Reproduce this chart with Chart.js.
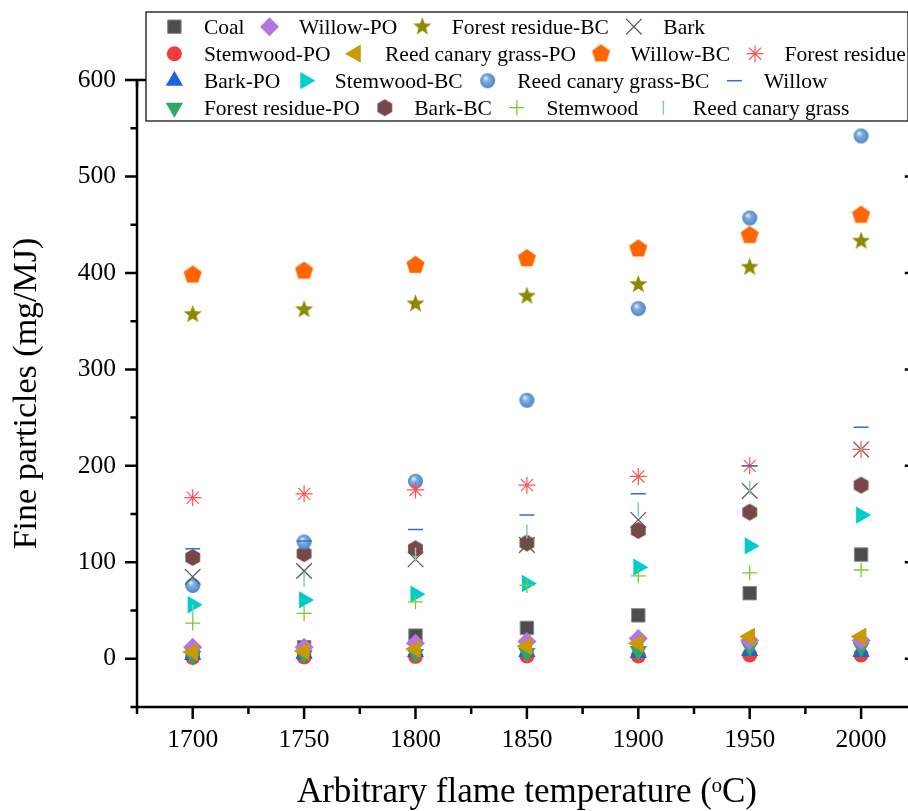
<!DOCTYPE html>
<html><head><meta charset="utf-8">
<script src="https://cdn.jsdelivr.net/npm/chart.js@4/dist/chart.umd.min.js"></script>
<style>
html,body{margin:0;padding:0;overflow:hidden;background:#fff;width:908px;height:811px}
#wrap{position:absolute;left:0;top:0;width:929px;height:811px}
</style>
</head><body><div id="wrap"><canvas id="c" width="929" height="811"></canvas></div>
<script>
// ---------- data ----------
const temps = [1700, 1750, 1800, 1850, 1900, 1950, 2000];
const xTickValues = [1700, 1750, 1800, 1850, 1900, 1950, 2000];
const yTickValues = [0, 100, 200, 300, 400, 500, 600];

const coal              = [7, 12, 24, 32, 45, 68, 108];
const stemwoodPO        = [1.5, 2, 2.5, 3, 3, 4, 4];
const barkPO            = [4, 5, 7, 7, 6, 8, 7];
const forestResiduePO   = [3, 4, 5, 6, 8, 12, 12];
const willowPO          = [12, 12, 16, 18, 21, 19, 19];
const reedCanaryGrassPO = [7, 8, 10, 13, 16, 23, 23];
const stemwoodBC        = [56, 61, 67, 78, 95, 117, 149];
const barkBC            = [105, 109, 114, 120, 133, 152, 180];
const forestResidueBC   = [357, 362, 368, 376, 388, 406, 433];
const willowBC          = [398, 402, 408, 415, 425, 439, 460];
const reedCanaryGrassBC = [76, 121, 184, 268, 363, 457, 542];
const stemwood          = [37, 47, 59, 76, 86, 89, 92];
const bark              = [85, 91, 103, 118, 144, 174, 217];
const forestResidue     = [167, 171, 175, 180, 189, 200, 217];
const willow            = [114, 122, 134, 149, 171, 200, 240];
const reedCanaryGrass   = [49, 82, 108, 132, 155, 177, 218];

const legendRows = [
  ['Coal', 'Willow-PO', 'Forest residue-BC', 'Bark'],
  ['Stemwood-PO', 'Reed canary grass-PO', 'Willow-BC', 'Forest residue'],
  ['Bark-PO', 'Stemwood-BC', 'Reed canary grass-BC', 'Willow'],
  ['Forest residue-PO', 'Bark-BC', 'Stemwood', 'Reed canary grass']
];

// ---------- custom marker images ----------
function mk(size) { const c = document.createElement('canvas'); c.width = c.height = size; return c; }
function polyImg(color, R, n, startDeg, innerRatio) {
  const s = Math.ceil(2 * R + 4), c = mk(s), g = c.getContext('2d');
  const cx = s / 2, cy = s / 2;
  g.beginPath();
  const pts = innerRatio ? n * 2 : n;
  for (let i = 0; i < pts; i++) {
    const a = (startDeg + i * 360 / pts) * Math.PI / 180;
    const r = innerRatio && (i % 2) ? R * innerRatio : R;
    const px = cx + r * Math.cos(a), py = cy + r * Math.sin(a);
    i ? g.lineTo(px, py) : g.moveTo(px, py);
  }
  g.closePath(); g.fillStyle = color; g.fill();
  return c;
}
function sphereImg(r) {
  const s = Math.ceil(2 * r + 4), c = mk(s), g = c.getContext('2d');
  const cx = s / 2, cy = s / 2;
  const grad = g.createRadialGradient(cx - r * 0.3, cy - r * 0.4, r * 0.05, cx, cy, r);
  grad.addColorStop(0, '#e8f2fb');
  grad.addColorStop(0.35, '#7fb0e0');
  grad.addColorStop(0.8, '#5a93cf');
  grad.addColorStop(1, '#4a80bd');
  g.beginPath(); g.arc(cx, cy, r, 0, Math.PI * 2); g.fillStyle = grad; g.fill();
  return c;
}
const hexImg = polyImg('#784848', 8.5, 6, -90, 0);
const starImg = polyImg('#8b8b00', 9.5, 5, -90, 0.42);
const pentImg = polyImg('#ff6600', 9.5, 5, -90, 0);
const sphImg = sphereImg(7.5);

const toXY = arr => temps.map((t, i) => ({ x: t, y: arr[i] }));

const series = [
  ['Coal', coal, { pointStyle: 'rect', pointRadius: 9.5, pointBackgroundColor: '#4d4d4d', pointBorderColor: '#8a8a8a', pointBorderWidth: 1 }],
  ['Stemwood-PO', stemwoodPO, { pointStyle: 'circle', pointRadius: 7.5, pointBackgroundColor: '#f23c3c', pointBorderColor: '#f23c3c', pointBorderWidth: 0 }],
  ['Bark-PO', barkPO, { pointStyle: 'triangle', pointRadius: 10, pointBackgroundColor: '#1c64da', pointBorderColor: '#1c64da', pointBorderWidth: 0 }],
  ['Forest residue-PO', forestResiduePO, { pointStyle: 'triangle', pointRotation: 180, pointRadius: 10, pointBackgroundColor: '#2ea866', pointBorderColor: '#2ea866', pointBorderWidth: 0 }],
  ['Willow-PO', willowPO, { pointStyle: 'rectRot', pointRadius: 9.5, pointBackgroundColor: '#b574e2', pointBorderColor: '#b574e2', pointBorderWidth: 0 }],
  ['Reed canary grass-PO', reedCanaryGrassPO, { pointStyle: 'triangle', pointRotation: 270, pointRadius: 10.5, pointBackgroundColor: '#cc9900', pointBorderColor: '#cc9900', pointBorderWidth: 0 }],
  ['Stemwood-BC', stemwoodBC, { pointStyle: 'triangle', pointRotation: 90, pointRadius: 10, pointBackgroundColor: '#00cccc', pointBorderColor: '#00cccc', pointBorderWidth: 0 }],
  ['Bark-BC', barkBC, { pointStyle: hexImg, pointRadius: 8.5, pointBackgroundColor: '#784848', pointBorderColor: '#784848', pointBorderWidth: 0 }],
  ['Forest residue-BC', forestResidueBC, { pointStyle: starImg, pointRadius: 9, pointBackgroundColor: '#8b8b00', pointBorderColor: '#8b8b00', pointBorderWidth: 0 }],
  ['Willow-BC', willowBC, { pointStyle: pentImg, pointRadius: 9, pointBackgroundColor: '#ff6600', pointBorderColor: '#ff6600', pointBorderWidth: 0 }],
  ['Reed canary grass-BC', reedCanaryGrassBC, { pointStyle: sphImg, pointRadius: 7.5, pointBackgroundColor: '#5b9bd5', pointBorderColor: '#5b9bd5', pointBorderWidth: 0 }],
  ['Stemwood', stemwood, { pointStyle: 'cross', pointRadius: 7.5, pointBackgroundColor: 'rgba(0,0,0,0)', pointBorderColor: '#7acc29', pointBorderWidth: 1.3 }],
  ['Bark', bark, { pointStyle: 'crossRot', pointRadius: 11, pointBackgroundColor: 'rgba(0,0,0,0)', pointBorderColor: '#555555', pointBorderWidth: 1.2 }],
  ['Forest residue', forestResidue, { pointStyle: 'star', pointRadius: 8.5, pointBackgroundColor: 'rgba(0,0,0,0)', pointBorderColor: '#ff5252', pointBorderWidth: 1.2 }],
  ['Willow', willow, { pointStyle: 'line', pointRadius: 7.5, pointBackgroundColor: 'rgba(0,0,0,0)', pointBorderColor: '#2f6fd8', pointBorderWidth: 1.5 }],
  ['Reed canary grass', reedCanaryGrass, { pointStyle: 'line', pointRotation: 90, pointRadius: 7, pointBackgroundColor: 'rgba(0,0,0,0)', pointBorderColor: '#80d0a8', pointBorderWidth: 1.5 }]
];

const datasets = series.map(([label, arr, st], i) => Object.assign({
  label, data: toXY(arr), showLine: false, order: -i, pointHoverRadius: st.pointRadius
}, st));

const SERIF = "'Liberation Serif', 'Times New Roman', serif";

// ---------- frame & ticks plugin ----------
const framePlugin = {
  id: 'frame',
  beforeDatasetsDraw(chart) {
    const { ctx, chartArea: a, scales: { x, y } } = chart;
    ctx.save();
    ctx.strokeStyle = '#000';
    ctx.lineWidth = 2.5;
    ctx.strokeRect(a.left, a.top, a.right - a.left, a.bottom - a.top);
    ctx.lineCap = 'butt';
    ctx.beginPath();
    for (let v = y.min; v <= y.max + 0.001; v += 50) {
      const py = y.getPixelForValue(v);
      const len = yTickValues.includes(v) ? 12 : 6.5;
      ctx.moveTo(a.left - len, py); ctx.lineTo(a.left, py);
      ctx.moveTo(a.right - len, py); ctx.lineTo(a.right, py);
    }
    for (let v = x.min; v <= x.max + 0.001; v += 25) {
      const px = x.getPixelForValue(v);
      const len = xTickValues.includes(v) ? 12 : 7;
      ctx.moveTo(px, a.bottom); ctx.lineTo(px, a.bottom + len);
      ctx.moveTo(px, a.top); ctx.lineTo(px, a.top + len);
    }
    ctx.stroke();
    ctx.restore();
  }
};

// ---------- legend plugin ----------
const legendPlugin = {
  id: 'boxLegend',
  afterDraw(chart) {
    const ctx = chart.ctx;
    ctx.save();
    ctx.fillStyle = '#fff';
    ctx.fillRect(146, 12, 762, 109);
    ctx.strokeStyle = '#000';
    ctx.lineWidth = 1.2;
    ctx.strokeRect(146, 12, 762, 109);
    ctx.font = '21.5px ' + SERIF;
    legendRows.forEach((row, r) => {
      const yy = 26.7 + 27 * r;
      let xx = 174.4;
      row.forEach(name => {
        const ds = chart.data.datasets.find(d => d.label === name);
        ctx.save();
        ctx.fillStyle = ds.pointBackgroundColor;
        ctx.strokeStyle = ds.pointBorderColor;
        ctx.lineWidth = ds.pointBorderWidth;
        Chart.helpers.drawPoint(ctx, {
          pointStyle: ds.pointStyle, rotation: ds.pointRotation || 0,
          radius: ds.pointRadius, borderWidth: ds.pointBorderWidth
        }, xx, yy);
        ctx.restore();
        const tx = xx + 29.5;
        ctx.fillStyle = '#000';
        ctx.textAlign = 'left';
        ctx.textBaseline = 'alphabetic';
        ctx.fillText(name, tx, yy + 6.8);
        xx = tx + ctx.measureText(name).width + 25;
      });
    });
    ctx.restore();
  }
};

new Chart(document.getElementById('c'), {
  type: 'scatter',
  data: { datasets },
  plugins: [framePlugin, legendPlugin],
  options: {
    responsive: false,
    devicePixelRatio: 1,
    animation: false,
    events: [],
    layout: { padding: { top: 80, right: 4.3, left: 0, bottom: 0 } },
    plugins: { legend: { display: false }, tooltip: { enabled: false } },
    scales: {
      x: {
        type: 'linear', min: 1675, max: 2025,
        afterBuildTicks: s => { s.ticks = xTickValues.map(v => ({ value: v })); },
        afterFit: s => { s.height = 104; s.paddingLeft = 0; s.paddingRight = 0; },
        grid: { display: false, drawTicks: false },
        border: { display: false },
        ticks: { font: { family: SERIF, size: 25.5 }, color: '#000', padding: 18, maxRotation: 0,
                 callback: v => String(v) },
        title: { display: true, text: 'Arbitrary flame temperature (ᵒC)', color: '#000',
                 font: { family: SERIF, size: 35, lineHeight: 1 }, padding: { top: 0, bottom: 1 } }
      },
      y: {
        type: 'linear', min: -50, max: 600,
        afterBuildTicks: s => { s.ticks = yTickValues.map(v => ({ value: v })); },
        afterFit: s => { s.width = 137; s.paddingTop = 0; s.paddingBottom = 0; },
        grid: { display: false, drawTicks: false },
        border: { display: false },
        ticks: { font: { family: SERIF, size: 25.5 }, color: '#000', padding: 21,
                 callback: v => String(v) },
        title: { display: true, text: 'Fine particles (mg/MJ)', color: '#000',
                 font: { family: SERIF, size: 34, lineHeight: 1 }, padding: { top: 10, bottom: 0 } }
      }
    }
  }
});
</script>
</body></html>
